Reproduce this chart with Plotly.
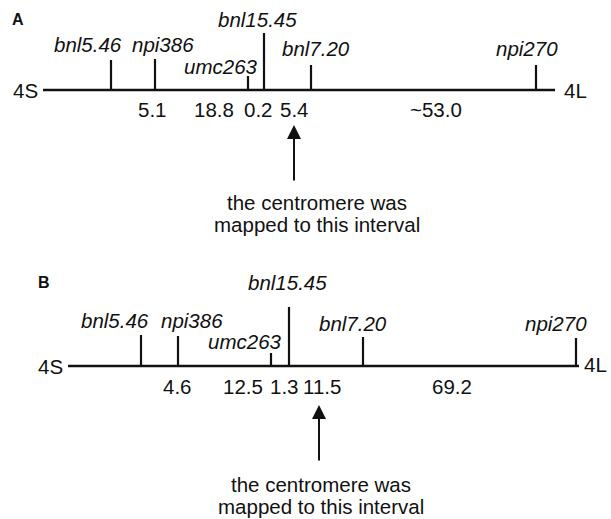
import plotly.graph_objects as go

# ---- data ----
markers = ["bnl5.46", "npi386", "umc263", "bnl15.45", "bnl7.20", "npi270"]
dist_A = ["5.1", "18.8", "0.2", "5.4", "~53.0"]
dist_B = ["4.6", "12.5", "1.3", "11.5", "69.2"]
pos_A = [111, 155, 248, 264, 311, 536]      # marker positions on map A (diagram units)
pos_B = [141, 178, 271, 289, 363, 576]      # marker positions on map B
height_A = [30, 31, 14, 57, 25, 25]         # tick heights, map A
height_B = [31, 30, 13, 59, 29, 28]         # tick heights, map B
arm_labels = ["4S", "4L"]
note_lines = ["the centromere was", "mapped to this interval"]

# ---- layout helpers (positions of text / decorations) ----
panels = [
    dict(name="A", base=90, line=(43, 555), pos=pos_A, h=height_A, dist=dist_A,
         lab=[(88, 44), (163, 44), (221, 66), (257, 19), (316, 48), (527, 48)],
         dx=[152, 214, 258, 294, 436], dy=109,
         s=(25, 90), l=(575, 90), title=(18, 19),
         arrow=(294, 125, 182), note=(317, 202, 224)),
    dict(name="B", base=366, line=(68, 579), pos=pos_B, h=height_B, dist=dist_B,
         lab=[(115, 320), (192, 320), (245, 341), (287, 282), (353, 323), (556, 323)],
         dx=[177, 243, 284, 322, 452], dy=386,
         s=(50, 366), l=(595, 364), title=(44, 282),
         arrow=(319, 405, 462), note=(321, 484, 506)),
]

FONT = "Liberation Sans, Arial, Helvetica, sans-serif"
FS = 20.5
fig = go.Figure()
ann = []
for p in panels:
    b = p["base"]
    # chromosome line
    fig.add_trace(go.Scatter(x=list(p["line"]), y=[b, b], mode="lines",
                             line=dict(color="#111", width=2.5),
                             hoverinfo="skip", showlegend=False))
    # marker ticks
    xs, ys = [], []
    for x, h in zip(p["pos"], p["h"]):
        xs += [x, x, None]
        ys += [b, b - h, None]
    fig.add_trace(go.Scatter(x=xs, y=ys, mode="lines",
                             line=dict(color="#111", width=2.2),
                             hoverinfo="skip", showlegend=False))
    # marker names
    for name, (lx, ly) in zip(markers, p["lab"]):
        ann.append(dict(x=lx, y=ly, text=f"<i>{name}</i>", showarrow=False,
                        font=dict(size=FS, family=FONT, color="#111"),
                        xanchor="center", yanchor="middle"))
    # distances
    for d, x in zip(p["dist"], p["dx"]):
        ann.append(dict(x=x, y=p["dy"], text=d, showarrow=False,
                        font=dict(size=FS, family=FONT, color="#111"),
                        xanchor="center", yanchor="middle"))
    # arm labels
    for t, (x, y) in zip(arm_labels, [p["s"], p["l"]]):
        ann.append(dict(x=x, y=y, text=t, showarrow=False,
                        font=dict(size=FS, family=FONT, color="#111"),
                        xanchor="center", yanchor="middle"))
    # panel letter
    ann.append(dict(x=p["title"][0], y=p["title"][1], text=f"<b>{p['name']}</b>",
                    showarrow=False, font=dict(size=16, family=FONT, color="#111"),
                    xanchor="center", yanchor="middle"))
    # arrow
    ax, tip, tail = p["arrow"]
    ann.append(dict(x=ax, y=tip, ax=ax, ay=tail, axref="x", ayref="y",
                    xref="x", yref="y", text="", showarrow=True,
                    arrowhead=2, arrowsize=1.4, arrowwidth=2, arrowcolor="#111"))
    nx, ny1, ny2 = p["note"]
    for t, y in zip(note_lines, [ny1, ny2]):
        ann.append(dict(x=nx, y=y, text=t, showarrow=False,
                        font=dict(size=FS, family=FONT, color="#111"),
                        xanchor="center", yanchor="middle"))

fig.update_layout(
    width=611, height=519,
    margin=dict(l=0, r=0, t=0, b=0),
    paper_bgcolor="white", plot_bgcolor="white",
    xaxis=dict(range=[0, 611], visible=False, fixedrange=True),
    yaxis=dict(range=[519, 0], visible=False, fixedrange=True),
    annotations=ann,
    showlegend=False,
)
fig.write_html("out.html", config={"displayModeBar": False},
               post_script="document.body.style.margin='0px';document.body.style.overflow='hidden';")
